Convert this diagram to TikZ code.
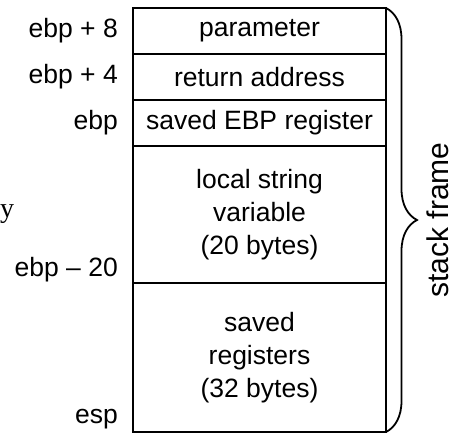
\documentclass[tikz,border=0pt]{standalone}
\usepackage{fontspec}
\setmainfont{Liberation Sans}
\newfontfamily\serifletter{Liberation Serif}
\usetikzlibrary{positioning,calc,decorations.pathreplacing}
\def \rowWidth {253pt}
\def \smallRow {46pt}
\def \labelGap {15pt}
\def \lowLabelY {13pt}
\def \boxFont {\fontsize{26.5}{33}\selectfont}
\tikzset{
 	cell/.style= {draw, rectangle, align=center, minimum width=\rowWidth, inner sep=0pt, outer sep=0pt, line width=1.8pt, font=\boxFont},
 	offsetlabel/.style= {draw=none, anchor=east, inner sep=0pt, font=\boxFont},
 	framebrace/.style= {decorate, decoration={brace, amplitude=31pt}, line width=1.8pt}
 }
\begin{document}
\begin{tikzpicture}[x=1pt, y=1pt]
    \useasboundingbox (0,0) rectangle (455,-434);

%%%%%%%%%%%%%%%%%%%%% Nodes %%%%%%%%%%%%%%%%%%%%%
    \node [cell, minimum height=\smallRow, anchor=north west] (R1) at (133,-8) {parameter};
    \node [cell, minimum height=\smallRow, below =0pt of R1] (R2) {return address};
    \node [cell, minimum height=\smallRow, below =0pt of R2] (R3) {saved EBP register};
    \node [cell, minimum height=137pt, below =0pt of R3] (R4) {local string\\variable\\(20 bytes)};
    \node [cell, minimum height=149pt, below =0pt of R4] (R5) {saved\\registers\\(32 bytes)};

    \node [offsetlabel, left =\labelGap of R1] (L1) {ebp + 8};
    \node [offsetlabel, left =\labelGap of R2] (L2) {ebp + 4};
    \node [offsetlabel, left =\labelGap of R3] (L3) {ebp};
    \node [offsetlabel] (L4) at ($(R4.south west)+(-\labelGap,\lowLabelY)$) {ebp -- 20};
    \node [offsetlabel] (L5) at ($(R5.south west)+(-\labelGap,\lowLabelY)$) {esp};

    \node [font=\serifletter\fontsize{28}{32}\selectfont, inner sep=0pt] (Y) at (7,-214) {y};

%%%%%%%%%%%%%%%%%%%%% Links %%%%%%%%%%%%%%%%%%%%%
	\draw [framebrace] (R1.north east) -- (R5.south east) coordinate[midway] (Mid);
	\node [rotate=90, anchor=north, inner sep=0pt, font=\fontsize{30}{34}\selectfont] (SF) at ($(Mid)+(41,0)$) {stack frame};

\end{tikzpicture}
\end{document}
